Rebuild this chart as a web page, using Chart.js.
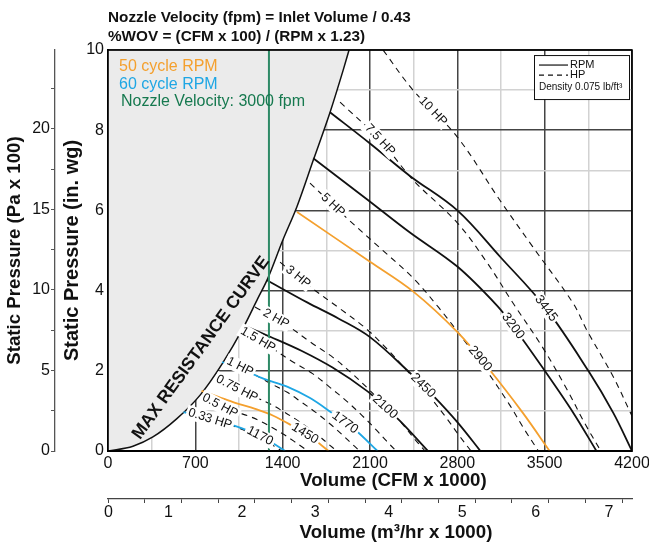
<!DOCTYPE html>
<html><head><meta charset="utf-8">
<script src="https://cdn.jsdelivr.net/npm/chart.js@4.4.1/dist/chart.umd.min.js"></script>
<style>html,body{margin:0;padding:0;background:#fff;}</style>
</head><body>
<canvas id="c" width="649" height="542"></canvas>
<script>
const FONT = "'Liberation Sans', Arial, Helvetica, sans-serif";

// ---- axis tick labels ----
const cfmTicks = [0, 700, 1400, 2100, 2800, 3500, 4200];
const inwgTicks = [0, 2, 4, 6, 8, 10];
const paTicks = [0, 5, 10, 15, 20];
const m3Ticks = [0, 1, 2, 3, 4, 5, 6, 7];

// ---- curves: [CFM, in. wg] ----
const maxResistance = [[0,0],[200,0.12],[360,0.35],[550,0.8],[740,1.4],[920,2.2],[1080,3.05],[1200,3.8],[1280,4.3],[1400,5.25],[1515,6.1],[1645,7.25],[1780,8.45],[1885,9.5],[1932,10]];
const nozzle3000 = [[1290,0],[1290,10]];

const rpm3445 = [[1779,8.45],[2100,7.67],[2420,6.86],[2800,6.0],[3150,4.82],[3500,3.6],[3850,2.0],[4050,0.95],[4200,0]];
const rpm3200 = [[1645,7.3],[2075,6.28],[2420,5.45],[2800,4.6],[3120,3.62],[3250,3.1],[3490,2.05],[3730,0.95],[3915,0]];
const rpm2900 = [[1515,5.96],[2100,4.72],[2445,3.98],[2805,2.95],[3060,2.02],[3325,0.95],[3540,0]];
const rpm2450 = [[1274,4.26],[1600,3.7],[1850,3.3],[2100,2.84],[2420,1.95],[2600,1.4],[2800,0.72],[2985,0]];
const rpm2100 = [[1082,3.14],[1300,2.85],[1550,2.5],[1800,2.08],[2075,1.5],[2220,1.1],[2350,0.72],[2565,0]];
const rpm1770 = [[914,2.22],[1080,2.02],[1250,1.8],[1440,1.6],[1620,1.32],[1790,0.96],[1980,0.53],[2160,0]];
const rpm1450 = [[750,1.5],[885,1.35],[1020,1.2],[1180,1.05],[1325,0.88],[1470,0.64],[1620,0.36],[1768,0]];
const rpm1170 = [[605,0.97],[715,0.88],[820,0.79],[950,0.69],[1070,0.57],[1190,0.42],[1310,0.22],[1420,0]];

const hp10  = [[2205,10],[2445,9.0],[2800,7.83],[3140,6.26],[3405,5.09],[3727,3.69],[3840,3.0],[4050,1.85],[4200,0.87]];
const hp7_5 = [[1860,8.7],[2180,7.76],[2445,6.76],[2800,5.69],[3040,4.69],[3246,3.69],[3480,2.6],[3680,1.53],[3816,0.72],[3950,0]];
const hp5   = [[1619,6.68],[1900,5.85],[2200,5.01],[2450,4.3],[2650,3.58],[2840,2.82],[3040,1.98],[3215,1.17],[3335,0.55],[3450,0]];
const hp3   = [[1379,4.71],[1619,4.1],[1855,3.56],[2066,3.06],[2235,2.55],[2395,2.01],[2564,1.41],[2711,0.83],[2813,0.39],[2910,0]];
const hp2   = [[1178,3.59],[1400,3.21],[1621,2.72],[1805,2.33],[1953,1.94],[2093,1.53],[2240,1.07],[2369,0.64],[2457,0.3],[2542,0]];
const hp1_5 = [[1084,2.99],[1272,2.65],[1473,2.24],[1640,1.93],[1774,1.6],[1903,1.27],[2035,0.89],[2152,0.52],[2232,0.25],[2309,0]];
const hp1   = [[947,2.28],[1111,2.02],[1287,1.71],[1433,1.47],[1550,1.22],[1662,0.97],[1778,0.68],[1880,0.4],[1950,0.19],[2018,0]];
const hp0_75= [[870,1.84],[1034,1.56],[1169,1.36],[1302,1.17],[1408,0.98],[1510,0.78],[1615,0.55],[1708,0.33],[1772,0.16],[1833,0]];
const hp0_5 = [[758,1.42],[898,1.13],[1021,0.98],[1137,0.86],[1230,0.73],[1319,0.58],[1411,0.41],[1492,0.24],[1548,0.12],[1601,0]];
const hp0_33= [[640,1.0],[818,0.8],[889,0.74],[990,0.64],[1071,0.54],[1148,0.43],[1228,0.3],[1299,0.18],[1348,0.09],[1394,0]];

// curve labels: text, series, CFM value where the label sits
const curveLabels = [
  ['10 HP','hp10',2605],['7.5 HP','hp7_5',2180],['5 HP','hp5',1803],['3 HP','hp3',1523],
  ['2 HP','hp2',1347],['1.5 HP','hp1_5',1202],['1 HP','hp1',1058],['0.75 HP','hp0_75',1034],
  ['0.5 HP','hp0_5',898],['0.33 HP','hp0_33',818],
  ['3445','rpm3445',3510],['3200','rpm3200',3246],['2900','rpm2900',2982],['2450','rpm2450',2525],
  ['2100','rpm2100',2220],['1770','rpm1770',1900],['1450','rpm1450',1579],['1170','rpm1170',1218]
];
const SERIES = {hp10,hp7_5,hp5,hp3,hp2,hp1_5,hp1,hp0_75,hp0_5,hp0_33,rpm3445,rpm3200,rpm2900,rpm2450,rpm2100,rpm1770,rpm1450,rpm1170};

const ORANGE = '#f4a02e', BLUE = '#1ea6e4', GREEN_T = '#16794f', GREEN_L = '#2e8a66';

const pts = a => a.map(([x,y]) => ({x,y}));
const solid = (a,color) => ({data:pts(a), borderColor:color, borderWidth:1.8, pointRadius:0, fill:false, tension:0.35, xAxisID:'x', yAxisID:'y'});
const dashed = a => ({data:pts(a), borderColor:'#111', borderWidth:1.1, borderDash:[6,5], pointRadius:0, fill:false, tension:0.35, xAxisID:'x', yAxisID:'y'});

const datasets = [
  {data:pts(nozzle3000), borderColor:GREEN_L, borderWidth:2, pointRadius:0, fill:false, tension:0, xAxisID:'x', yAxisID:'y'},
  solid(rpm1170,BLUE), solid(rpm1770,BLUE), solid(rpm1450,ORANGE), solid(rpm2900,ORANGE),
  solid(rpm2100,'#111'), solid(rpm2450,'#111'), solid(rpm3200,'#111'), solid(rpm3445,'#111'),
  dashed(hp10), dashed(hp7_5), dashed(hp5), dashed(hp3), dashed(hp2), dashed(hp1_5), dashed(hp1), dashed(hp0_75), dashed(hp0_5), dashed(hp0_33),
  {data:pts(maxResistance), borderColor:'#111', borderWidth:1.5, pointRadius:0, fill:'end', backgroundColor:'#ebebeb', cubicInterpolationMode:'monotone', xAxisID:'x', yAxisID:'y'}
];

function interp(p, x){
  if (x <= p[0][0]) return p[0][1];
  for (let i=1;i<p.length;i++){
    if (x <= p[i][0]) { const [x0,y0]=p[i-1],[x1,y1]=p[i]; return y0+(y1-y0)*(x-x0)/(x1-x0); }
  }
  return p[p.length-1][1];
}

const overlay = {
  id:'overlay',
  afterDatasetsDraw(chart){
    const {ctx, chartArea:ca, scales:{x,y}} = chart;
    ctx.save();
    ctx.strokeStyle='#000'; ctx.lineWidth=1.6;
    ctx.strokeRect(ca.left, ca.top, ca.right-ca.left, ca.bottom-ca.top);
    ctx.restore();
    for (const [t,s,at] of curveLabels){
      const p = SERIES[s];
      const px = x.getPixelForValue(at), py = y.getPixelForValue(interp(p,at));
      const d = 45;
      const ax = x.getPixelForValue(at-d), ay = y.getPixelForValue(interp(p,at-d));
      const bx = x.getPixelForValue(at+d), by = y.getPixelForValue(interp(p,at+d));
      const ang = Math.atan2(by-ay, bx-ax);
      ctx.save();
      ctx.translate(px,py); ctx.rotate(ang);
      ctx.font = (t.indexOf('HP')>=0 ? '12.5px ' : '13px ') + FONT;
      const w = ctx.measureText(t).width;
      ctx.fillStyle='#fff'; ctx.fillRect(-w/2-2,-7,w+4,14);
      ctx.fillStyle='#111'; ctx.textAlign='center'; ctx.textBaseline='middle';
      ctx.fillText(t,0,0);
      ctx.restore();
    }
    ctx.save();
    ctx.translate(x.getPixelForValue(745), y.getPixelForValue(2.57));
    ctx.rotate(-54*Math.PI/180);
    ctx.font = 'bold 17.5px ' + FONT; ctx.fillStyle='#111'; ctx.textAlign='center'; ctx.textBaseline='middle';
    ctx.fillText('MAX RESISTANCE CURVE',0,0);
    ctx.restore();
    ctx.save();
    ctx.font = '16px ' + FONT; ctx.textBaseline='middle'; ctx.textAlign='left';
    ctx.fillStyle = ORANGE; ctx.fillText('50 cycle RPM', ca.left+11, ca.top+17);
    ctx.fillStyle = BLUE; ctx.fillText('60 cycle RPM', ca.left+11, ca.top+35);
    ctx.fillStyle = GREEN_T; ctx.fillText('Nozzle Velocity: 3000 fpm', ca.left+13, ca.top+52);
    ctx.restore();
    ctx.save();
    const bx0 = ca.right-98, by0 = ca.top+5;
    ctx.fillStyle='#fff'; ctx.fillRect(bx0,by0,95,44);
    ctx.strokeStyle='#111'; ctx.lineWidth=1; ctx.strokeRect(bx0+0.5,by0+0.5,95,44);
    ctx.lineWidth=1.2;
    ctx.beginPath(); ctx.moveTo(bx0+5,by0+10); ctx.lineTo(bx0+34,by0+10); ctx.stroke();
    ctx.setLineDash([5,4]);
    ctx.beginPath(); ctx.moveTo(bx0+5,by0+20); ctx.lineTo(bx0+34,by0+20); ctx.stroke();
    ctx.setLineDash([]);
    ctx.fillStyle='#111'; ctx.textBaseline='middle'; ctx.textAlign='left';
    ctx.font='11px ' + FONT;
    ctx.fillText('RPM', bx0+36, by0+10);
    ctx.fillText('HP', bx0+36, by0+20);
    ctx.font='10px ' + FONT;
    ctx.fillText('Density 0.075 lb/ft³', bx0+5, by0+32);
    ctx.restore();
  }
};

const tickFont = {family:FONT, size:16};
const titleFont = {family:FONT, size:18.7, weight:'bold', lineHeight:1.2};

new Chart(document.getElementById('c'), {
  type:'line',
  data:{datasets},
  plugins:[overlay],
  options:{
    responsive:false, animation:false, devicePixelRatio:1,
    layout:{padding:{left:0,right:17,top:0,bottom:0}},
    plugins:{
      legend:{display:false}, tooltip:{enabled:false},
      title:{display:true, align:'start', fullSize:false,
        text:['Nozzle Velocity (fpm) = Inlet Volume / 0.43','%WOV = (CFM x 100) / (RPM x 1.23)'],
        font:{family:FONT,size:15.3,weight:'bold',lineHeight:1.25}, color:'#111', padding:{top:8,bottom:3.8}}
    },
    scales:{
      x:{type:'linear', position:'bottom', weight:0, min:0, max:4200,
        ticks:{stepSize:350, autoSkip:false, maxRotation:0, padding:3, font:tickFont, color:'#111',
          callback:v => cfmTicks.includes(v) ? String(v) : ''},
        grid:{drawTicks:false, lineWidth:1.5, color:c => (c.tick && cfmTicks.includes(c.tick.value)) ? '#444' : '#d2d2d2'},
        border:{display:true, color:'#000', width:2},
        title:{display:true, text:'         Volume (CFM x 1000)', font:titleFont, color:'#111', padding:{top:0,bottom:7}},
        afterFit:s => { s.height = 48; s.paddingRight = 16; s.paddingLeft = 0; }
      },
      x2:{type:'linear', position:'bottom', weight:1, min:0, max:4200*1.699/1000,
        ticks:{stepSize:0.5, includeBounds:false, autoSkip:false, maxRotation:0, padding:0, labelOffset:-13, font:tickFont, color:'#111',
          callback:v => m3Ticks.includes(v) ? (v===0 ? '      0' : String(v)) : ''},
        grid:{drawOnChartArea:false, drawTicks:true, tickLength:4, color:'#444', lineWidth:1},
        border:{display:true, color:'#444', width:1.3},
        title:{display:true, text:'          Volume (m³/hr x 1000)', font:{family:FONT,size:18.7,weight:'bold',lineHeight:1.0}, color:'#111', padding:{top:0,bottom:0}},
        afterFit:s => { s.height = 43; s.paddingRight = 0; s.paddingLeft = 0; }
      },
      y:{type:'linear', position:'left', weight:0, min:0, max:10,
        ticks:{stepSize:1, autoSkip:false, padding:4, font:tickFont, color:'#111',
          callback:v => inwgTicks.includes(v) ? String(v) : ''},
        grid:{drawTicks:false, lineWidth:1.5, color:c => (c.tick && inwgTicks.includes(c.tick.value)) ? '#444' : '#d2d2d2'},
        border:{display:true, color:'#000', width:2},
        title:{display:true, text:'Static Pressure (in. wg)', font:{family:FONT,size:20,weight:'bold',lineHeight:1.2}, color:'#111', padding:{top:5,bottom:0}},
        afterFit:s => { s.width = 53; }
      },
      y2:{type:'linear', position:'left', weight:1, min:0, max:24.9,
        ticks:{stepSize:2.5, includeBounds:false, autoSkip:false, padding:1, font:tickFont, color:'#111',
          callback:v => paTicks.includes(v) ? String(v) : ''},
        grid:{drawOnChartArea:false, drawTicks:true, tickLength:4, color:'#555', lineWidth:1},
        border:{display:true, color:'#555', width:1.3},
        title:{display:true, text:'Static Pressure (Pa x 100)', font:titleFont, color:'#111', padding:{top:4,bottom:0}},
        afterFit:s => { s.width = 55; }
      }
    }
  }
});
</script>
</body></html>
